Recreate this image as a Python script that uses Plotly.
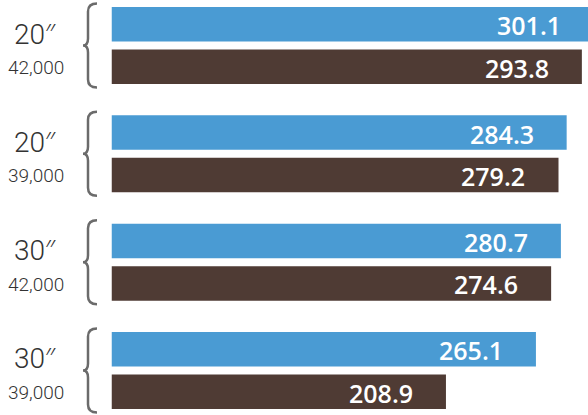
import plotly.graph_objects as go

# Engine sizes / weights per group, top to bottom
sizes = ["20", "20", "30", "30"]
weights = ["42,000", "39,000", "42,000", "39,000"]
series_a = [301.1, 284.3, 280.7, 265.1]
series_b = [293.8, 279.2, 274.6, 208.9]

W, H = 588, 415
BLUE = "#4a9bd3"
BROWN = "#4f3b34"
X0 = 111.5           # left edge of the bars, px
SCALE = 1.601        # px per unit
XMAX = (W - X0) / SCALE
BARGAP, GROUPGAP = 0.215, 0.188

pos = list(range(len(sizes)))
unit = 108.33  # pixels per group on the y axis

fig = go.Figure()
fig.add_trace(go.Bar(y=pos, x=series_a, orientation="h", marker=dict(color=BLUE, line=dict(width=0)),
                     hoverinfo="skip", showlegend=False))
fig.add_trace(go.Bar(y=pos, x=series_b, orientation="h", marker=dict(color=BROWN, line=dict(width=0)),
                     hoverinfo="skip", showlegend=False))

annotations = []
shapes = []
offset = (1 - BARGAP) / 4  # centre of each bar within a group
for i in pos:
    for val, off in ((series_a[i], -offset), (series_b[i], offset)):
        annotations.append(dict(x=val / XMAX, y=i + off, xref="x domain", yref="y", text=f"{val:.1f}",
                                xanchor="right", yanchor="middle", xshift=-31, yshift=-1, showarrow=False,
                                font=dict(family="Open Sans", size=25, color="white", weight=600)))
    annotations.append(dict(x=35 / W, y=i, xref="paper", yref="y",
                            text=sizes[i] + "<span style='font-family:Open Sans'>″</span>",
                            xanchor="center", yanchor="middle", yshift=13, showarrow=False,
                            font=dict(family="Roboto", size=28, color="#333333", weight=300)))
    annotations.append(dict(x=36 / W, y=i, xref="paper", yref="y", text=weights[i], xanchor="center",
                            yanchor="middle", yshift=-22, showarrow=False,
                            font=dict(family="Roboto", size=19, color="#333333", weight=300)))
    # curly brace to the left of each group
    d = lambda p: i + p / unit
    px = lambda p: p / W
    path = (f"M {px(97)},{d(-42)} Q {px(88)},{d(-42)} {px(88)},{d(-34)} "
            f"L {px(88)},{d(-7)} Q {px(88)},{d(0)} {px(83)},{d(0)} "
            f"Q {px(88)},{d(0)} {px(88)},{d(7)} L {px(88)},{d(34)} "
            f"Q {px(88)},{d(42)} {px(97)},{d(42)}")
    shapes.append(dict(type="path", path=path, xref="paper", yref="y",
                       line=dict(color="#6b6b6b", width=2.5)))

fig.update_layout(
    width=W, height=H,
    margin=dict(l=0, r=0, t=0, b=0),
    paper_bgcolor="white", plot_bgcolor="white",
    barmode="group", bargap=BARGAP, bargroupgap=GROUPGAP,
    xaxis=dict(domain=[X0 / W, 1], range=[0, XMAX], visible=False, fixedrange=True),
    yaxis=dict(range=[(H - 45.5) / unit, -45.5 / unit], visible=False, fixedrange=True),
    annotations=annotations, shapes=shapes,
)

fig.write_html("out.html", config={"displayModeBar": False})
